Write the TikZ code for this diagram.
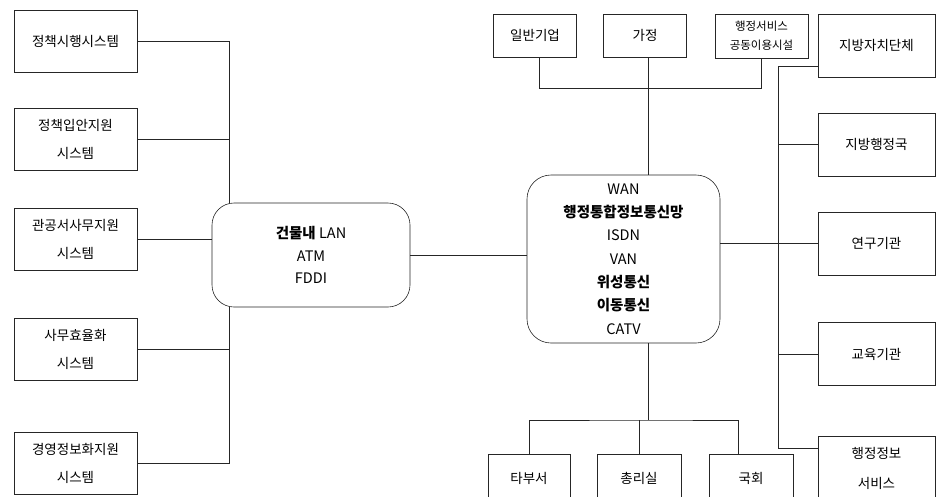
\documentclass[tikz,border=0pt]{standalone}
\usepackage{fontspec}
\setmainfont{Noto Sans CJK KR}
\usetikzlibrary{calc}
\tikzset{
  link/.style={line width=0.6pt, draw=black!85},
  boxbase/.style={draw=black!85, line width=0.6pt, align=center, inner sep=0pt},
  lbox/.style={boxbase, minimum width=123pt, minimum height=62pt, font=\fontsize{13.5}{28}\selectfont},
  rbox/.style={boxbase, minimum width=117pt, minimum height=63pt, font=\fontsize{13.5}{30}\selectfont},
  tbox/.style={boxbase, minimum width=83pt, minimum height=43pt, font=\fontsize{13.5}{20}\selectfont},
  bbox/.style={boxbase, minimum width=83pt, minimum height=48pt, font=\fontsize{13.5}{20}\selectfont},
  netbox/.style={boxbase, rounded corners=24pt}
}
\begin{document}
\begin{tikzpicture}[x=1pt,y=-1pt]
\useasboundingbox (0,0) rectangle (937,496);
% left boxes
\node[lbox] (l1) at (75.5,41) {정책시행시스템};
\node[lbox] (l2) at (75.5,139.5) {정책입안지원\\시스템};
\node[lbox] (l3) at (75.5,239.5) {관공서사무지원\\시스템};
\node[lbox] (l4) at (75.5,349) {사무효율화\\시스템};
\node[lbox] (l5) at (75.5,463) {경영정보화지원\\시스템};
% LAN
\node[netbox, rounded corners=22pt, minimum width=198pt, minimum height=104pt,
      font=\fontsize{14.5}{22.5}\selectfont] (lan) at (311,255)
      {\textbf{건물내} LAN\\ATM\\FDDI};
% center
\node[netbox, minimum width=193pt, minimum height=168pt,
      font=\fontsize{14.5}{23.3}\selectfont] (ctr) at (623.5,259)
      {WAN\\\textbf{행정통합정보통신망}\\ISDN\\VAN\\\textbf{위성통신}\\\textbf{이동통신}\\CATV};
% top boxes
\node[tbox] (t1) at (535,35.5) {일반기업};
\node[tbox] (t2) at (645,35.5) {가정};
\node[tbox, minimum width=93pt, minimum height=44pt, font=\fontsize{11.5}{19}\selectfont] (t3) at (761.5,36) {행정서비스\\공동이용시설};
% right boxes
\node[rbox] (r1) at (876.5,45.5) {지방자치단체};
\node[rbox] (r2) at (876.5,144.5) {지방행정국};
\node[rbox] (r3) at (876.5,243.5) {연구기관};
\node[rbox] (r4) at (876.5,354) {교육기관};
\node[rbox, minimum height=64pt] (r5) at (876.5,468) {행정정보\\서비스};
% bottom boxes
\node[bbox, minimum width=82pt] (b1) at (529,478) {타부서};
\node[bbox, minimum width=84pt] (b2) at (639,478) {총리실};
\node[bbox, minimum width=84pt] (b3) at (751,478) {국회};
% coordinates
\coordinate (lx) at (230,0);
\coordinate (cx) at (648,0);
\coordinate (th) at (0,88);
\coordinate (rx) at (778,0);
\coordinate (rtop) at (778,66);
\coordinate (rbot) at (778,448);
\coordinate (hub) at (648,420);
\coordinate (kx) at (738,0);
% left connectors
\draw[link] (l1.east) -| ($(lan.north west)+(18,0)$);
\draw[link] (l2.east) -- (l2.east -| lx);
\draw[link] (l3.east) -- (l3.east -| lan.west);
\draw[link] (l4.east) -- (l4.east -| lx);
\draw[link] (l5.east) -| ($(lan.south west)+(18,0)$);
\draw[link] (lan.east) -- (lan.east -| ctr.west);
% top connectors
\draw[link] ($(t1.south)+(4,0)$) |- (th -| t3.south) -- (t3.south);
\draw[link] (t2.south -| cx) -- (ctr.north -| cx);
% right connectors
\draw[link] (r1.west |- rtop) -- (rtop) -- (rbot) -- (r5.west |- rbot);
\draw[link] (r2.west) -- (r2.west -| rx);
\draw[link] (r3.west) -- (r3.west -| ctr.east);
\draw[link] (r4.west) -- (r4.west -| rx);
% bottom connectors
\draw[link] (ctr.south -| hub) -- (hub);
\draw[link] (b1.north) |- (hub) -| (b3.north -| kx);
\draw[link] (b2.north) -- (b2.north |- hub);
\end{tikzpicture}
\end{document}
